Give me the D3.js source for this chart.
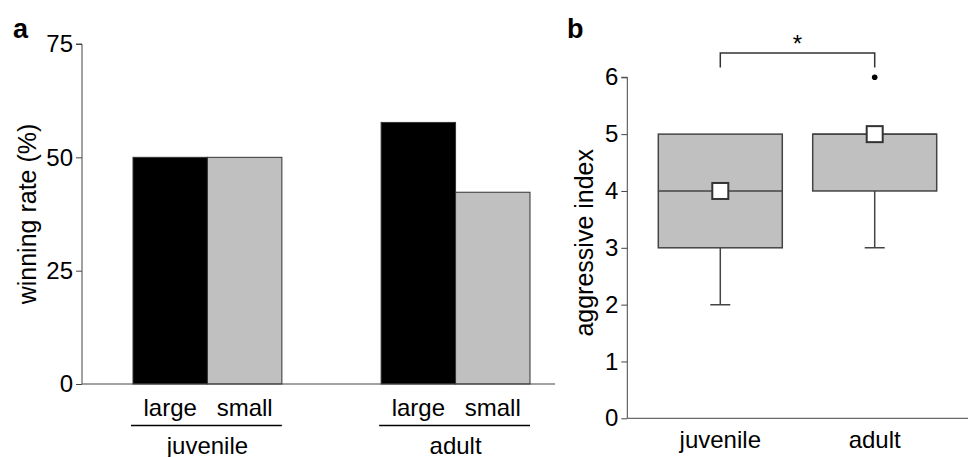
<!DOCTYPE html>
<html>
<head>
<meta charset="utf-8">
<script src="https://cdn.jsdelivr.net/npm/d3@7"></script>
<style>
  body { margin: 0; background: #fff; }
  svg { display: block; font-family: Arial, "Liberation Sans", sans-serif; }
</style>
</head>
<body>
<svg id="chart" width="968" height="457"></svg>
<script>
/* Data */
const ageGroups = ["juvenile", "adult"];
const sizeClasses = ["large", "small"];
const winLarge = [50, 57.7];
const winSmall = [50, 42.3];
const winTicks = [0, 25, 50, 75];

/* box stats per age group */
const aggMin = [2, 3];
const aggQ1 = [3, 4];
const aggMedian = [4, 5];
const aggQ3 = [5, 5];
const aggMax = [5, 5];
const aggMean = [4, 5];
const aggOutliers = [[], [6]];
const aggTicks = [0, 1, 2, 3, 4, 5, 6];

const axisColor = "#444";
const labelSize = "24px";
const titleSize = "25px";
const svg = d3.select("#chart");

/* ---------- Panel a: winning rate ---------- */
const ya = d3.scaleLinear().domain([0, 75]).range([384, 44]);
const xa = d3.scaleBand().domain(ageGroups).range([133, 530]).paddingInner(0.4).paddingOuter(0);
const xaSub = d3.scaleBand().domain(sizeClasses).range([0, xa.bandwidth()]).padding(0);

const pa = svg.append("g");

const winData = ageGroups.flatMap((g, i) => [
  { group: g, size: "large", value: winLarge[i] },
  { group: g, size: "small", value: winSmall[i] }
]);

pa.selectAll(".bar")
  .data(winData)
  .join("rect")
    .attr("class", "bar")
    .attr("x", d => xa(d.group) + xaSub(d.size))
    .attr("y", d => ya(d.value))
    .attr("width", xaSub.bandwidth())
    .attr("height", d => ya(0) - ya(d.value))
    .attr("fill", d => d.size === "large" ? "#000" : "#c0c0c0")
    .attr("stroke", "#333")
    .attr("stroke-width", 1);

/* y axis */
const yAxisA = pa.append("g")
  .attr("transform", "translate(82,0)")
  .call(d3.axisLeft(ya).tickValues(winTicks).tickFormat(d3.format("d")).tickSize(6).tickPadding(3));
yAxisA.select(".domain").attr("d", `M-6,${ya(75)}H0V${ya(0)}`);

/* x baseline */
pa.append("line")
  .attr("x1", 82).attr("x2", 555)
  .attr("y1", ya(0)).attr("y2", ya(0))
  .attr("stroke", axisColor);

/* category labels */
pa.selectAll(".size-label")
  .data(winData)
  .join("text")
    .attr("class", "size-label")
    .attr("x", d => xa(d.group) + xaSub(d.size) + xaSub.bandwidth() / 2)
    .attr("y", 415.5)
    .attr("text-anchor", "middle")
    .style("font-size", labelSize)
    .text(d => d.size);

pa.selectAll(".group-line")
  .data(ageGroups)
  .join("line")
    .attr("class", "group-line")
    .attr("x1", d => xa(d) - 2)
    .attr("x2", d => xa(d) + xa.bandwidth())
    .attr("y1", 425.5).attr("y2", 425.5)
    .attr("stroke", "#000")
    .attr("stroke-width", 1.5);

pa.selectAll(".group-label")
  .data(ageGroups)
  .join("text")
    .attr("class", "group-label")
    .attr("x", d => xa(d) + xa.bandwidth() / 2)
    .attr("y", 454)
    .attr("text-anchor", "middle")
    .style("font-size", labelSize)
    .text(d => d);

pa.append("text")
  .attr("transform", `translate(36,${(ya(0) + ya(75)) / 2}) rotate(-90)`)
  .attr("text-anchor", "middle")
  .style("font-size", titleSize)
  .text("winning rate (%)");

pa.append("text")
  .attr("x", 13).attr("y", 38)
  .style("font-size", "27px")
  .style("font-weight", "bold")
  .text("a");

/* ---------- Panel b: aggressive index ---------- */
const yb = d3.scaleLinear().domain([0, 6]).range([418.3, 77.3]);
const xb = d3.scaleBand().domain(ageGroups).range([658.3, 936.7]).paddingInner(0.197).paddingOuter(0);

const pb = svg.append("g");

const boxData = ageGroups.map((g, i) => ({
  group: g, min: aggMin[i], q1: aggQ1[i], median: aggMedian[i],
  q3: aggQ3[i], max: aggMax[i], mean: aggMean[i], outliers: aggOutliers[i]
}));

const cx = d => xb(d.group) + xb.bandwidth() / 2;
const capHalf = 10;

/* whiskers */
pb.selectAll(".whisker-low")
  .data(boxData.filter(d => d.min < d.q1))
  .join("path")
    .attr("class", "whisker-low")
    .attr("d", d => `M${cx(d)},${yb(d.q1)}V${yb(d.min)}M${cx(d) - capHalf},${yb(d.min)}H${cx(d) + capHalf}`)
    .attr("fill", "none")
    .attr("stroke", axisColor)
    .attr("stroke-width", 1.5);

pb.selectAll(".whisker-high")
  .data(boxData.filter(d => d.max > d.q3))
  .join("path")
    .attr("class", "whisker-high")
    .attr("d", d => `M${cx(d)},${yb(d.q3)}V${yb(d.max)}M${cx(d) - capHalf},${yb(d.max)}H${cx(d) + capHalf}`)
    .attr("fill", "none")
    .attr("stroke", axisColor)
    .attr("stroke-width", 1.5);

/* boxes */
pb.selectAll(".box")
  .data(boxData)
  .join("rect")
    .attr("class", "box")
    .attr("x", d => xb(d.group))
    .attr("y", d => yb(d.q3))
    .attr("width", xb.bandwidth())
    .attr("height", d => yb(d.q1) - yb(d.q3))
    .attr("fill", "#c0c0c0")
    .attr("stroke", axisColor)
    .attr("stroke-width", 1.5);

pb.selectAll(".median")
  .data(boxData)
  .join("line")
    .attr("class", "median")
    .attr("x1", d => xb(d.group))
    .attr("x2", d => xb(d.group) + xb.bandwidth())
    .attr("y1", d => yb(d.median))
    .attr("y2", d => yb(d.median))
    .attr("stroke", axisColor)
    .attr("stroke-width", 1.5);

/* outliers */
pb.selectAll(".outlier")
  .data(boxData.flatMap(d => d.outliers.map(v => ({ group: d.group, value: v }))))
  .join("circle")
    .attr("class", "outlier")
    .attr("cx", d => cx(d))
    .attr("cy", d => yb(d.value))
    .attr("r", 2.8)
    .attr("fill", "#000");

/* mean markers */
const sq = 16;
pb.selectAll(".mean")
  .data(boxData)
  .join("rect")
    .attr("class", "mean")
    .attr("x", d => cx(d) - sq / 2)
    .attr("y", d => yb(d.mean) - sq / 2)
    .attr("width", sq)
    .attr("height", sq)
    .attr("fill", "#fff")
    .attr("stroke", "#333")
    .attr("stroke-width", 2);

/* axes */
const yAxisB = pb.append("g")
  .attr("transform", "translate(627.3,0)")
  .call(d3.axisLeft(yb).tickValues(aggTicks).tickFormat(d3.format("d")).tickSize(6).tickPadding(3));
yAxisB.select(".domain").attr("d", `M-6,${yb(6)}H0V${yb(0)}`);

pb.append("line")
  .attr("x1", 627.3).attr("x2", 968)
  .attr("y1", yb(0)).attr("y2", yb(0))
  .attr("stroke", axisColor);

pb.selectAll(".group-label")
  .data(ageGroups)
  .join("text")
    .attr("class", "group-label")
    .attr("x", d => xb(d) + xb.bandwidth() / 2)
    .attr("y", 448)
    .attr("text-anchor", "middle")
    .style("font-size", labelSize)
    .text(d => d);

pb.append("text")
  .attr("transform", `translate(593,${(yb(0) + yb(6)) / 2 - 5}) rotate(-90)`)
  .attr("text-anchor", "middle")
  .style("font-size", titleSize)
  .text("aggressive index");

/* significance bracket */
const bx0 = cx(boxData[0]), bx1 = cx(boxData[1]);
pb.append("path")
  .attr("d", `M${bx0},67.5V53H${bx1}V67.5`)
  .attr("fill", "none")
  .attr("stroke", "#333")
  .attr("stroke-width", 1.5);
pb.append("text")
  .attr("x", (bx0 + bx1) / 2)
  .attr("y", 52)
  .attr("text-anchor", "middle")
  .style("font-size", "24px")
  .text("*");

pb.append("text")
  .attr("x", 567).attr("y", 38)
  .style("font-size", "27px")
  .style("font-weight", "bold")
  .text("b");

/* axis styling */
svg.selectAll(".tick line").attr("stroke", axisColor);
svg.selectAll(".domain").attr("stroke", axisColor);
svg.selectAll(".tick text").style("font-size", labelSize).attr("fill", "#000");
</script>
</body>
</html>
